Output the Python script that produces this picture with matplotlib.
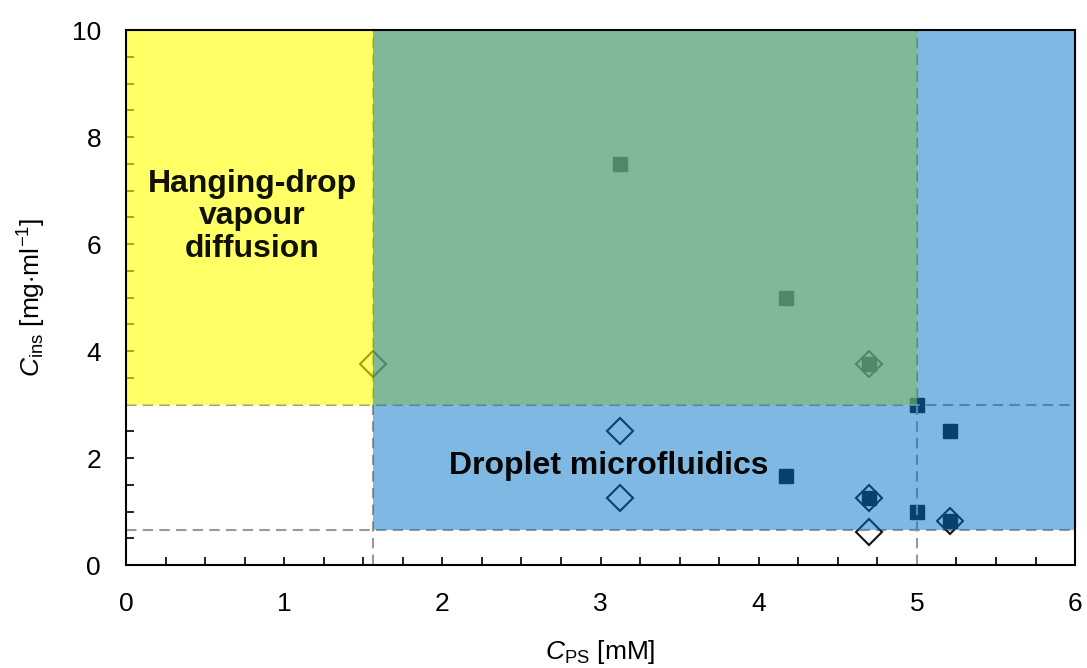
import matplotlib
matplotlib.use("Agg")
import matplotlib.pyplot as plt
from matplotlib.ticker import MultipleLocator

plt.rcParams["font.family"] = ["Liberation Sans", "DejaVu Sans"]
plt.rcParams["mathtext.fontset"] = "custom"
plt.rcParams["mathtext.rm"] = "Liberation Sans"
plt.rcParams["mathtext.it"] = "Liberation Sans:italic"

# data
sq_x = [3.12, 4.17, 4.17, 4.70, 4.70, 5.00, 5.21, 5.00, 5.21]
sq_y = [7.50, 5.00, 1.67, 3.75, 1.25, 3.00, 2.50, 1.00, 0.83]
dia_x = [1.56, 3.12, 3.12, 4.70, 4.70, 4.70, 5.21]
dia_y = [3.75, 2.50, 1.25, 3.75, 1.25, 0.62, 0.83]

# region bounds
x_lo, x_hi = 1.56, 5.0
y_lo, y_hi = 0.65, 3.0

fig = plt.figure(figsize=(10.87, 6.68), dpi=100)
ax = fig.add_axes([0.116, 0.154, 0.873, 0.801])
ax.set_xlim(0, 6)
ax.set_ylim(0, 10)

ax.plot(sq_x, sq_y, ls="none", marker="s", ms=10, color="#111111", zorder=2)
ax.plot(dia_x, dia_y, ls="none", marker="D", ms=13, mfc="none",
        mec="#111111", mew=1.5, zorder=2.2)

dash = dict(color="#9a9a9a", lw=1.5, ls=(0, (5, 3)), zorder=2.1)
ax.axhline(y_hi, **dash)
ax.axhline(y_lo, **dash)
ax.axvline(x_lo, **dash)
ax.axvline(x_hi, **dash)

# translucent overlays on top (they tint markers and ticks)
ax.fill_between([0, x_hi], y_hi, 10, color=(1, 1, 0), alpha=0.6, lw=0, zorder=3)
ax.fill_between([x_lo, 6], y_lo, 10, color=(0, 0.455, 0.784), alpha=0.5, lw=0, zorder=3.1)

ax.text(0.8, 6.52, "Hanging-drop\nvapour\ndiffusion", ha="center", va="center",
        fontsize=23, fontweight="bold", linespacing=1.12, color="#111100", zorder=5)
ax.text(3.05, 1.85, "Droplet microfluidics", ha="center", va="center",
        fontsize=23, fontweight="bold", color="#050505", zorder=5)

ax.xaxis.set_major_locator(MultipleLocator(1))
ax.xaxis.set_minor_locator(MultipleLocator(0.25))
ax.yaxis.set_major_locator(MultipleLocator(2))
ax.yaxis.set_minor_locator(MultipleLocator(0.5))
ax.tick_params(which="both", direction="in", width=1.2, labelsize=19)
ax.tick_params(axis="x", pad=19)
ax.tick_params(axis="y", pad=18)
ax.tick_params(which="major", length=6)
ax.tick_params(which="minor", length=6)
for s in ax.spines.values():
    s.set_linewidth(1.5)
    s.set_zorder(4)

ax.set_xlabel(r"$C_\mathrm{PS}$ [mM]", fontsize=19, labelpad=16)
ax.set_ylabel(r"$C_\mathrm{ins}$ [mg$\cdot$ml$^{-1}$]", fontsize=19, labelpad=17)

fig.savefig("out.png", dpi=100)
